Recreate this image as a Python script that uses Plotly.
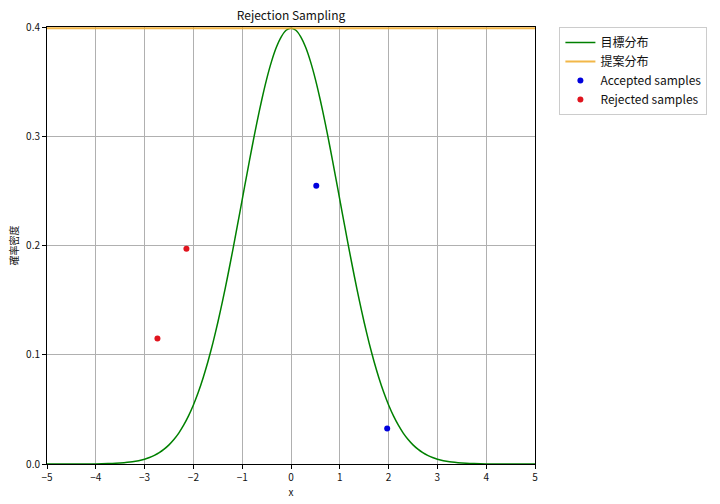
import plotly.graph_objects as go

# target density (finer near the peak)
x_target = [-5.0, -4.5, -4.0, -3.75, -3.5, -3.25,
            -3.0, -2.9, -2.8, -2.7, -2.6, -2.5, -2.4, -2.3, -2.2, -2.1,
            -2.0, -1.9, -1.8, -1.7, -1.6, -1.5, -1.4, -1.3, -1.2, -1.1,
            -1.0, -0.9, -0.8, -0.7, -0.6, -0.5, -0.4, -0.3, -0.2, -0.1,
            0.0, 0.1, 0.2, 0.3, 0.4, 0.5, 0.6, 0.7, 0.8, 0.9,
            1.0, 1.1, 1.2, 1.3, 1.4, 1.5, 1.6, 1.7, 1.8, 1.9,
            2.0, 2.1, 2.2, 2.3, 2.4, 2.5, 2.6, 2.7, 2.8, 2.9,
            3.0, 3.25, 3.5, 3.75, 4.0, 4.5, 5.0]
y_target = [0.0000, 0.0000, 0.0001, 0.0004, 0.0009, 0.0020,
            0.0044, 0.0060, 0.0079, 0.0104, 0.0136, 0.0175, 0.0224, 0.0283, 0.0355, 0.0440,
            0.0540, 0.0656, 0.0790, 0.0940, 0.1109, 0.1295, 0.1497, 0.1714, 0.1942, 0.2179,
            0.2420, 0.2661, 0.2897, 0.3123, 0.3332, 0.3521, 0.3683, 0.3814, 0.3910, 0.3970,
            0.3989, 0.3970, 0.3910, 0.3814, 0.3683, 0.3521, 0.3332, 0.3123, 0.2897, 0.2661,
            0.2420, 0.2179, 0.1942, 0.1714, 0.1497, 0.1295, 0.1109, 0.0940, 0.0790, 0.0656,
            0.0540, 0.0440, 0.0355, 0.0283, 0.0224, 0.0175, 0.0136, 0.0104, 0.0079, 0.0060,
            0.0044, 0.0020, 0.0009, 0.0004, 0.0001, 0.0000, 0.0000]

# proposal (uniform, scaled)
x_prop = [-5.0, 5.0]
y_prop = [0.3989, 0.3989]

accepted_x = [0.518, 1.971]
accepted_y = [0.2548, 0.0324]
rejected_x = [-2.143, -2.737]
rejected_y = [0.197, 0.1148]

font = "Noto Sans CJK JP"

fig = go.Figure()
fig.add_trace(go.Scatter(x=x_target, y=y_target, mode="lines", name="目標分布",
                         line=dict(color="green", width=1.5, shape="spline", smoothing=0.6)))
fig.add_trace(go.Scatter(x=x_prop, y=y_prop, mode="lines", name="提案分布",
                         line=dict(color="rgba(240,170,40,0.85)", width=2)))
fig.add_trace(go.Scatter(x=accepted_x, y=accepted_y, mode="markers", name="Accepted samples",
                         marker=dict(color="#0000dd", size=6)))
fig.add_trace(go.Scatter(x=rejected_x, y=rejected_y, mode="markers", name="Rejected samples",
                         marker=dict(color="#e0141e", size=6)))

axis_style = dict(showline=True, mirror=True, linecolor="black", linewidth=1,
                  ticks="outside", ticklen=4, tickcolor="black",
                  showgrid=True, gridcolor="#b0b0b0", gridwidth=1,
                  zeroline=False, automargin=False,
                  tickfont=dict(size=10, color="#111"))

fig.update_xaxes(range=[-5, 5], dtick=1, title=dict(text="x", font=dict(size=10), standoff=2),
                 **axis_style)
fig.update_yaxes(range=[0, 0.4], dtick=0.1, tickformat=".1f",
                 title=dict(text="確率密度", font=dict(size=10), standoff=5), **axis_style)

fig.update_layout(width=720, height=504,
                  margin=dict(l=47, r=185, t=27, b=40),
                  paper_bgcolor="white", plot_bgcolor="white",
                  font=dict(family=font, size=11, color="#111"),
                  title=dict(text="Rejection Sampling", x=0.5, xanchor="center",
                             xref="paper", y=0.968, yanchor="middle",
                             font=dict(size=12)),
                  legend=dict(x=1.05, y=1.0, xanchor="left", yanchor="top",
                              bordercolor="#cccccc", borderwidth=1,
                              font=dict(size=12), tracegroupgap=0))

# drop the default 8px page margin so the figure sits at the window's corner
fig.write_html("out.html", config={"displayModeBar": False},
               post_script="document.body.style.margin='0';")
